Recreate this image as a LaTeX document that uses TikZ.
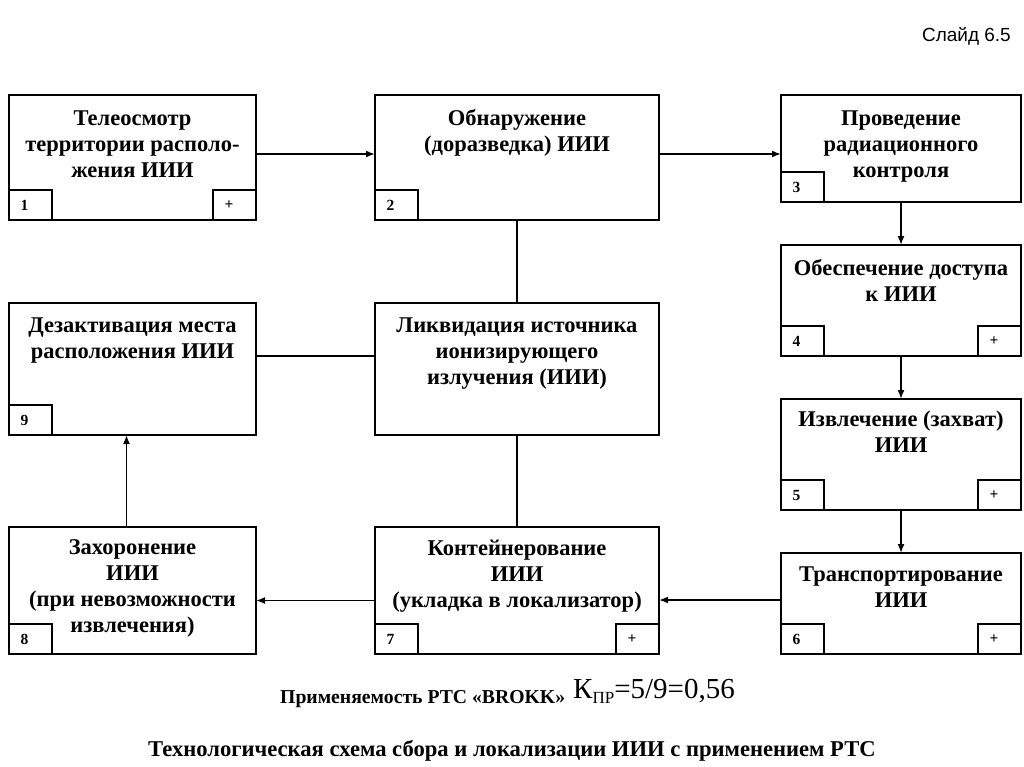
\documentclass[tikz,border=0pt]{standalone}
\usepackage{fontspec}
\setmainfont{Liberation Serif}
\newfontfamily\sansf{Liberation Sans}
\usetikzlibrary{arrows.meta}
\tikzset{
  blk/.style={draw, line width=1.7pt, rectangle, inner sep=0pt, outer sep=0pt, anchor=north west},
  txt/.style={font=\bfseries\fontsize{22.5}{26}\selectfont, align=center, inner sep=0pt, anchor=north},
  numbox/.style={draw, line width=1.7pt, minimum height=30pt, text width=20pt, inner xsep=11.5pt,
                 inner ysep=0pt, align=left, outer sep=0pt, font=\bfseries\fontsize{15.5}{17}\selectfont},
  arr/.style={line width=1.7pt, -{Latex[length=9pt,width=7pt]}},
  ln/.style={line width=1.7pt}
}
\begin{document}
\begin{tikzpicture}[x=1pt,y=-1pt]
\useasboundingbox[fill=white] (0,0) rectangle (1024,767);
% main boxes
\node[blk, minimum width=247pt, minimum height=125pt] (b1) at (9,95) {};
\node[blk, minimum width=284pt, minimum height=125pt] (b2) at (375,95) {};
\node[blk, minimum width=240pt, minimum height=107pt] (b3) at (781,95) {};
\node[blk, minimum width=240pt, minimum height=111pt] (b4) at (781,245) {};
\node[blk, minimum width=240pt, minimum height=111pt] (b5) at (781,399) {};
\node[blk, minimum width=240pt, minimum height=101pt] (b6) at (781,553) {};
\node[blk, minimum width=284pt, minimum height=132pt] (bL) at (375,303) {};
\node[blk, minimum width=247pt, minimum height=132pt] (b9) at (9,303) {};
\node[blk, minimum width=247pt, minimum height=127pt] (b8) at (9,527) {};
\node[blk, minimum width=284pt, minimum height=127pt] (b7) at (375,527) {};
% texts
\node[txt, yshift=-16pt] (t1) at (b1.north) {Телеосмотр\\территории располо-\\жения ИИИ};
\node[txt, yshift=-14pt] (t2) at (b2.north) {Обнаружение\\(доразведка) ИИИ};
\node[txt, yshift=-16pt] (t3) at (b3.north) {Проведение\\радиационного\\контроля};
\node[txt, yshift=-14pt] (t4) at (b4.north) {Обеспечение доступа\\к ИИИ};
\node[txt, yshift=-12pt] (t5) at (b5.north) {Извлечение (захват)\\ИИИ};
\node[txt, yshift=-14pt] (t6) at (b6.north) {Транспортирование\\ИИИ};
\node[txt, yshift=-15pt] (tL) at (bL.north) {Ликвидация источника\\ионизирующего\\излучения (ИИИ)};
\node[txt, yshift=-15pt] (t9) at (b9.north) {Дезактивация места\\расположения ИИИ};
\node[txt, yshift=-12pt] (t8) at (b8.north) {Захоронение\\ИИИ\\(при невозможности\\извлечения)};
\node[txt, yshift=-13pt] (t7) at (b7.north) {Контейнерование\\ИИИ\\(укладка в локализатор)};
% number and plus boxes
\node[numbox, anchor=south west] (n1) at (b1.south west) {1};
\node[numbox, anchor=south east] (p1) at (b1.south east) {+};
\node[numbox, anchor=south west] (n2) at (b2.south west) {2};
\node[numbox, anchor=south west] (n3) at (b3.south west) {3};
\node[numbox, anchor=south west] (n4) at (b4.south west) {4};
\node[numbox, anchor=south east] (p4) at (b4.south east) {+};
\node[numbox, anchor=south west] (n5) at (b5.south west) {5};
\node[numbox, anchor=south east] (p5) at (b5.south east) {+};
\node[numbox, anchor=south west] (n6) at (b6.south west) {6};
\node[numbox, anchor=south east] (p6) at (b6.south east) {+};
\node[numbox, anchor=south west] (n7) at (b7.south west) {7};
\node[numbox, anchor=south east] (p7) at (b7.south east) {+};
\node[numbox, anchor=south west] (n8) at (b8.south west) {8};
\node[numbox, anchor=south west] (n9) at (b9.south west) {9};
% connectors
\draw[arr] ([yshift=3.5pt]b1.east) -- ([yshift=3.5pt]b2.west);
\draw[arr] ([yshift=3.5pt]b2.east) -- ([yshift=3.5pt]b2.east -| b3.west);
\draw[arr] (b3.south) -- (b4.north);
\draw[arr] (b4.south) -- (b5.north);
\draw[arr] (b5.south) -- (b6.north);
\draw[arr] ([yshift=3.5pt]b6.west) -- ([yshift=3.5pt]b6.west -| b7.east);
\draw[arr] ([yshift=-10pt]b7.west) -- ([yshift=-10pt]b8.east);
\draw[arr] ([xshift=-6pt]b8.north) -- ([xshift=-6pt]b9.south);
\draw[ln] (b2.south) -- (bL.north);
\draw[ln] (bL.south) -- (b7.north);
\draw[ln] ([yshift=13pt]bL.west) -- ([yshift=13pt]bL.west -| b9.east);
% bottom texts
\node[anchor=base west, inner sep=0pt, font=\bfseries\fontsize{19.7}{22}\selectfont] (appl) at (280,703) {Применяемость РТС «BROKK»};
\node[anchor=base west, inner sep=0pt, font=\fontsize{29}{30}\selectfont] (kf) at (573,698) {К\raisebox{-5pt}{\fontsize{17}{18}\selectfont ПР}=5/9=0,56};
\node[anchor=base, inner sep=0pt, font=\bfseries\fontsize{22.6}{25}\selectfont] (title) at (512,756) {Технологическая схема сбора и локализации ИИИ с применением РТС};
\node[anchor=base east, inner sep=0pt, font=\sansf\fontsize{19}{22}\selectfont] (slide) at (1011,42) {Слайд 6.5};
\end{tikzpicture}
\end{document}
